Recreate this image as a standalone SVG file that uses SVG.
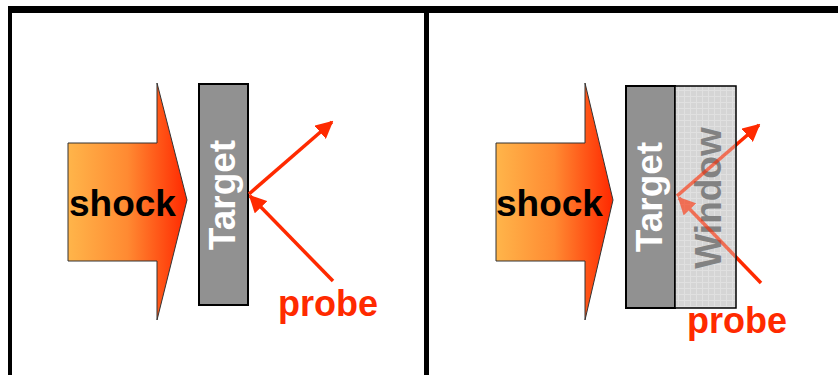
<svg xmlns="http://www.w3.org/2000/svg" width="838" height="375" viewBox="0 0 838 375">
  <defs>
    <linearGradient id="shockGrad" x1="0" y1="0" x2="1" y2="0">
      <stop offset="0" stop-color="#ffb54a"/>
      <stop offset="0.5" stop-color="#ff8a32"/>
      <stop offset="1" stop-color="#ff2800"/>
    </linearGradient>
    <pattern id="grid" width="6" height="6" patternUnits="userSpaceOnUse">
      <rect width="6" height="6" fill="#d5d5d5"/>
      <path d="M0 0.5H6M0.5 0V6" stroke="#e0e0e0" stroke-width="1"/>
    </pattern>
    <clipPath id="winClip">
      <rect x="676" y="87" width="59" height="220"/>
    </clipPath>
    <marker id="head" viewBox="0 0 10 10" refX="9" refY="5" markerWidth="5" markerHeight="5" orient="auto" markerUnits="strokeWidth">
      <path d="M0 0L10 5L0 10z" fill="#ff2a00"/>
    </marker>
  </defs>
  <style>
    .shock { fill: url(#shockGrad); stroke: #333; stroke-width: 1; }
    .target { fill: #919191; stroke: #000; stroke-width: 2; }
    .window { fill: url(#grid); stroke: #000; stroke-width: 1.5; }
    .lbl { font-family: "Liberation Sans", Arial, sans-serif; font-weight: bold; font-size: 37px; }
    .dark { fill: #000; }
    .white { fill: #fff; }
    .gray { fill: #828282; }
    .red { fill: #ff2a00; font-size: 36px; }
    .ray { stroke: #ff2a00; stroke-width: 3.5; fill: none; marker-end: url(#head); }
  </style>

  <g id="frame">
    <rect x="8" y="6" width="830" height="7" fill="#000"/>
    <rect x="8" y="6" width="4" height="369" fill="#000"/>
    <rect x="424" y="6" width="5" height="369" fill="#000"/>
  </g>

  <!-- Left panel -->
  <g id="shock1">
    <polygon class="shock" points="68,143 157,143 157,83 187,200 157,320 157,261 68,261"/>
    <text class="lbl dark" x="69" y="216">shock</text>
  </g>
  <g id="target1">
    <rect class="target" x="199" y="84" width="49" height="221"/>
    <text class="lbl white" text-anchor="middle" transform="translate(235,195) rotate(-90)">Target</text>
  </g>
  <g id="connectors1">
    <line class="ray" x1="333" y1="281" x2="250" y2="196"/>
    <line class="ray" x1="249" y1="194" x2="332" y2="122"/>
  </g>
  <g id="probe1">
    <text class="lbl red" x="278" y="316">probe</text>
  </g>

  <!-- Right panel -->
  <g id="shock2">
    <polygon class="shock" points="496,143 585,143 585,83 613,200 585,320 585,261 496,261"/>
    <text class="lbl dark" x="496" y="216">shock</text>
  </g>
  <g id="target2">
    <rect class="target" x="626" y="86" width="49" height="222"/>
    <text class="lbl white" text-anchor="middle" transform="translate(662,197) rotate(-90)">Target</text>
  </g>
  <g id="connectors2">
    <line class="ray" x1="761" y1="283" x2="679" y2="198"/>
    <line class="ray" x1="677" y1="196" x2="759" y2="125"/>
  </g>
  <g id="window2">
    <rect class="window" x="675" y="86" width="61" height="222"/>
    <text class="lbl gray" text-anchor="middle" transform="translate(721,198) rotate(-90)">Window</text>
    <use href="#connectors2" clip-path="url(#winClip)" opacity="0.6"/>
  </g>
  <g id="probe2">
    <text class="lbl red" x="687" y="333">probe</text>
  </g>
</svg>
